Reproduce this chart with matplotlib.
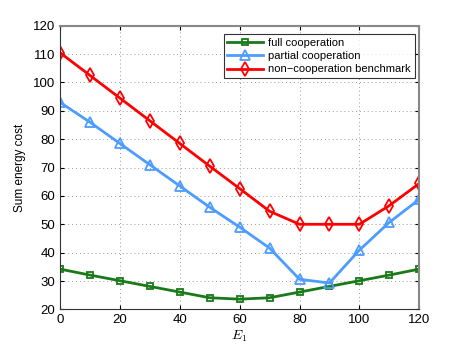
import matplotlib
matplotlib.use("Agg")
import matplotlib.pyplot as plt

E1 = [0, 10, 20, 30, 40, 50, 60, 70, 80, 90, 100, 110, 120]
full_coop = [34.2, 32.1, 30.1, 28.1, 26.1, 24.1, 23.6, 24.1, 26.1, 28.1, 30.1, 32.1, 34.2]
partial_coop = [93.0, 86.0, 78.5, 71.0, 63.5, 56.0, 49.0, 41.6, 30.6, 29.3, 40.9, 50.7, 58.8]
non_coop = [110.5, 102.5, 94.5, 86.5, 78.5, 70.5, 62.6, 54.6, 50.0, 50.0, 50.0, 56.6, 64.4]
labels = ["full cooperation", "partial cooperation", "non\u2212cooperation benchmark"]
xticks = [0, 20, 40, 60, 80, 100, 120]
yticks = [20, 30, 40, 50, 60, 70, 80, 90, 100, 110, 120]

plt.rcParams['font.family'] = ['Liberation Sans', 'DejaVu Sans']
plt.rcParams['mathtext.fontset'] = 'cm'

fig = plt.figure(figsize=(4.63, 3.48), dpi=100)
ax = fig.add_axes([0.1296, 0.111, 0.776, 0.815])

ax.plot(E1, full_coop, color='#1a7a1a', lw=2, marker='s', ms=5, mfc='none', mew=1.3, label=labels[0])
ax.plot(E1, partial_coop, color='#4d9cff', lw=2, marker='^', ms=7, mfc='none', mew=1.3, label=labels[1])
ax.plot(E1, non_coop, color='#ff0000', lw=2, marker='d', ms=7, mfc='none', mew=1.3, label=labels[2])

ax.set_xlim(0, 120)
ax.set_ylim(20, 120)
ax.set_xticks(xticks)
ax.set_yticks(yticks)
ax.tick_params(direction='in', top=True, right=True, labelsize=9.5, length=3)
ax.grid(True, linestyle=(0, (1, 3)), color='#999999', linewidth=0.7)
for s in ax.spines.values():
    s.set_color('#333333')
    s.set_linewidth(0.8)
ax.spines['right'].set_color('#888888')
ax.spines['right'].set_linewidth(1.5)
ax.spines['top'].set_color('#888888')
ax.spines['top'].set_linewidth(1.5)

ax.set_xlabel(r'$E_1$', fontsize=10, labelpad=2)
ax.set_ylabel('Sum energy cost', fontsize=8.5, labelpad=5)

leg = ax.legend(loc='upper right', bbox_to_anchor=(0.996, 0.983), fontsize=8, frameon=True,
                fancybox=False, edgecolor='black', handlelength=3.2, borderpad=0.35,
                labelspacing=0.3, handletextpad=0.45, borderaxespad=0.3)
leg.get_frame().set_linewidth(0.8)

fig.savefig('out.png', dpi=100)
